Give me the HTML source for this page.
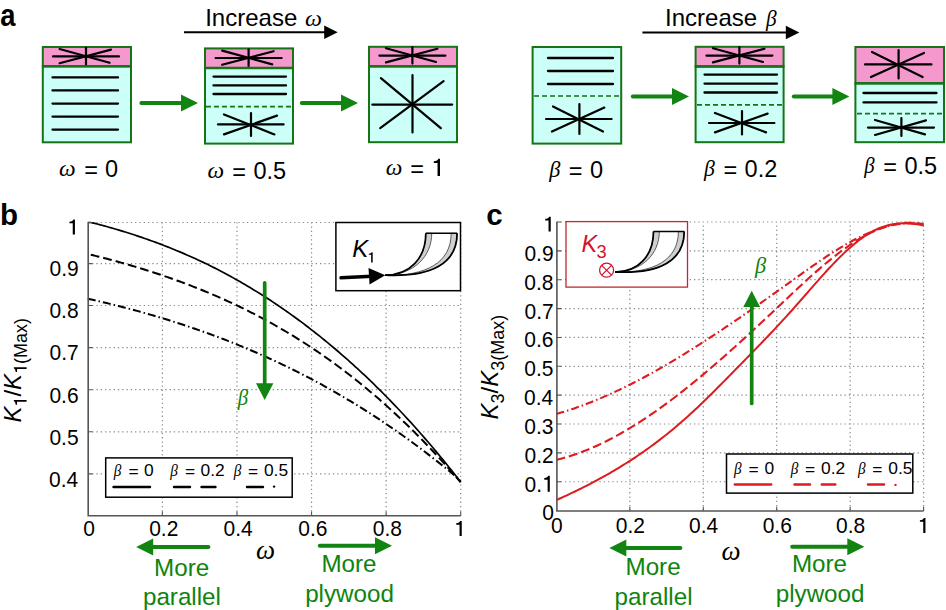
<!DOCTYPE html>
<html><head><meta charset="utf-8"><title>Figure</title>
<style>
html,body{margin:0;padding:0;background:#fff;width:946px;height:610px;overflow:hidden}
svg{display:block;font-family:"Liberation Sans",sans-serif}
</style></head><body>
<svg width="946" height="610" viewBox="0 0 946 610">
<rect width="946" height="610" fill="#fff"/>
<text x="0.3" y="25.9" font-size="31.5" font-weight="bold" textLength="15.23" lengthAdjust="spacingAndGlyphs" >a</text>
<rect x="42.8" y="47" width="88.2" height="19.3" fill="#f498cd" stroke="#167316" stroke-width="2"/>
<rect x="42.8" y="66.3" width="88.2" height="76" fill="#cbfff7" stroke="#167316" stroke-width="2"/>
<line x1="42.8" y1="66.3" x2="131" y2="66.3" stroke="#167316" stroke-width="2.4"/>
<line x1="52.5" y1="77.4" x2="118" y2="77.4" stroke="#000" stroke-width="2.3" stroke-linecap="round"/>
<line x1="52.5" y1="90.4" x2="118" y2="90.4" stroke="#000" stroke-width="2.3" stroke-linecap="round"/>
<line x1="52.5" y1="103.6" x2="118" y2="103.6" stroke="#000" stroke-width="2.3" stroke-linecap="round"/>
<line x1="52.5" y1="116.6" x2="118" y2="116.6" stroke="#000" stroke-width="2.3" stroke-linecap="round"/>
<line x1="52.5" y1="129.6" x2="118" y2="129.6" stroke="#000" stroke-width="2.3" stroke-linecap="round"/>
<g stroke="#000" stroke-width="2.2" stroke-linecap="round">
<line x1="53" y1="56.4" x2="119" y2="56.4"/>
<line x1="86" y1="47.8" x2="86" y2="64.4"/>
<line x1="59.6" y1="49" x2="109.6" y2="62.8"/>
<line x1="111" y1="49.6" x2="59.6" y2="63.2"/>
</g>
<rect x="205" y="48.4" width="88" height="19.6" fill="#f498cd" stroke="#167316" stroke-width="2"/>
<rect x="205" y="68" width="88" height="75.6" fill="#cbfff7" stroke="#167316" stroke-width="2"/>
<line x1="205" y1="68" x2="293" y2="68" stroke="#167316" stroke-width="2.4"/>
<g stroke="#000" stroke-width="2.2" stroke-linecap="round">
<line x1="215.6" y1="58" x2="281.6" y2="58"/>
<line x1="248.6" y1="49.4" x2="248.6" y2="66"/>
<line x1="222.2" y1="50.6" x2="272.2" y2="64.4"/>
<line x1="273.6" y1="51.2" x2="222.2" y2="64.8"/>
</g>
<line x1="213.5" y1="76.6" x2="286" y2="76.6" stroke="#000" stroke-width="2.3" stroke-linecap="round"/>
<line x1="213.5" y1="85.4" x2="286" y2="85.4" stroke="#000" stroke-width="2.3" stroke-linecap="round"/>
<line x1="213.5" y1="94" x2="286" y2="94" stroke="#000" stroke-width="2.3" stroke-linecap="round"/>
<line x1="206" y1="106.6" x2="292" y2="106.6" stroke="#167316" stroke-width="1.7" stroke-dasharray="5 3"/>
<g stroke="#000" stroke-width="2.2" stroke-linecap="round">
<line x1="218" y1="124.4" x2="283.6" y2="124.4"/>
<line x1="251" y1="113" x2="251" y2="136"/>
<line x1="224" y1="114.4" x2="274.4" y2="134.4"/>
<line x1="277" y1="115.6" x2="224" y2="134.4"/>
</g>
<rect x="369" y="46.8" width="88" height="19.6" fill="#f498cd" stroke="#167316" stroke-width="2"/>
<rect x="369" y="66.4" width="88" height="75.8" fill="#cbfff7" stroke="#167316" stroke-width="2"/>
<line x1="369" y1="66.4" x2="457" y2="66.4" stroke="#167316" stroke-width="2.4"/>
<g stroke="#000" stroke-width="2.2" stroke-linecap="round">
<line x1="379.4" y1="55.6" x2="445.4" y2="55.6"/>
<line x1="412.4" y1="47" x2="412.4" y2="63.6"/>
<line x1="386" y1="48.2" x2="436" y2="62"/>
<line x1="437.4" y1="48.8" x2="386" y2="62.4"/>
</g>
<g stroke="#000" stroke-width="2.2" stroke-linecap="round"><line x1="372.3" y1="104.6" x2="452.2" y2="104.6"/><line x1="412.5" y1="75" x2="412.5" y2="132.4"/><line x1="380.9" y1="78.1" x2="440.8" y2="128.2"/><line x1="443.6" y1="81.2" x2="380.2" y2="128.2"/></g>
<rect x="532.6" y="47" width="88.6" height="96.6" fill="#cbfff7" stroke="#167316" stroke-width="2"/>
<line x1="548" y1="58" x2="613" y2="58" stroke="#000" stroke-width="2.3" stroke-linecap="round"/>
<line x1="548" y1="71" x2="613" y2="71" stroke="#000" stroke-width="2.3" stroke-linecap="round"/>
<line x1="548" y1="84" x2="613" y2="84" stroke="#000" stroke-width="2.3" stroke-linecap="round"/>
<line x1="534" y1="96" x2="620" y2="96" stroke="#167316" stroke-width="1.7" stroke-dasharray="5 3"/>
<g stroke="#000" stroke-width="2.2" stroke-linecap="round">
<line x1="546" y1="119" x2="611.6" y2="119"/>
<line x1="579.4" y1="104" x2="579.4" y2="134"/>
<line x1="553" y1="106.4" x2="603" y2="131.6"/>
<line x1="604.4" y1="107.6" x2="552" y2="131.6"/>
</g>
<rect x="695.6" y="46.8" width="88" height="19.7" fill="#f498cd" stroke="#167316" stroke-width="2"/>
<rect x="695.6" y="66.5" width="88" height="75.7" fill="#cbfff7" stroke="#167316" stroke-width="2"/>
<line x1="695.6" y1="66.5" x2="783.6" y2="66.5" stroke="#167316" stroke-width="2.4"/>
<g stroke="#000" stroke-width="2.2" stroke-linecap="round">
<line x1="706.4" y1="55.6" x2="772.4" y2="55.6"/>
<line x1="739.4" y1="47" x2="739.4" y2="63.6"/>
<line x1="713" y1="48.2" x2="763" y2="62"/>
<line x1="764.4" y1="48.8" x2="713" y2="62.4"/>
</g>
<line x1="704.5" y1="74.6" x2="777" y2="74.6" stroke="#000" stroke-width="2.3" stroke-linecap="round"/>
<line x1="704.5" y1="83.6" x2="777" y2="83.6" stroke="#000" stroke-width="2.3" stroke-linecap="round"/>
<line x1="704.5" y1="92.5" x2="777" y2="92.5" stroke="#000" stroke-width="2.3" stroke-linecap="round"/>
<line x1="697" y1="104.8" x2="782" y2="104.8" stroke="#167316" stroke-width="1.7" stroke-dasharray="5 3"/>
<g stroke="#000" stroke-width="2.2" stroke-linecap="round">
<line x1="709" y1="123" x2="774.4" y2="123"/>
<line x1="742" y1="111" x2="742" y2="134.4"/>
<line x1="715" y1="113" x2="766" y2="132.4"/>
<line x1="767.6" y1="113.6" x2="715" y2="132.4"/>
</g>
<rect x="855.4" y="47" width="88.6" height="36.4" fill="#f498cd" stroke="#167316" stroke-width="2"/>
<rect x="855.4" y="83.4" width="88.6" height="58.8" fill="#cbfff7" stroke="#167316" stroke-width="2"/>
<line x1="855.4" y1="83.4" x2="944" y2="83.4" stroke="#167316" stroke-width="2.4"/>
<g stroke="#000" stroke-width="2.2" stroke-linecap="round">
<line x1="865" y1="64.4" x2="931.4" y2="64.4"/>
<line x1="898.6" y1="50" x2="898.6" y2="78.4"/>
<line x1="872" y1="52" x2="922.6" y2="77"/>
<line x1="924" y1="53" x2="871" y2="77"/>
</g>
<line x1="863.5" y1="93" x2="936.5" y2="93" stroke="#000" stroke-width="2.3" stroke-linecap="round"/>
<line x1="863.5" y1="102.4" x2="936.5" y2="102.4" stroke="#000" stroke-width="2.3" stroke-linecap="round"/>
<line x1="857" y1="113.6" x2="942" y2="113.6" stroke="#167316" stroke-width="1.7" stroke-dasharray="5 3"/>
<g stroke="#000" stroke-width="2.2" stroke-linecap="round">
<line x1="868" y1="127.6" x2="934" y2="127.6"/>
<line x1="901.4" y1="118" x2="901.4" y2="136"/>
<line x1="875" y1="120" x2="925" y2="134.4"/>
<line x1="926" y1="120.4" x2="875" y2="135"/>
</g>
<line x1="141.4" y1="103" x2="183" y2="103" stroke="#118411" stroke-width="4" stroke-linecap="round"/>
<path d="M198,103 L181,94.5 L181,111.5 Z" fill="#118411"/>
<line x1="301.8" y1="103" x2="343" y2="103" stroke="#118411" stroke-width="4" stroke-linecap="round"/>
<path d="M358,103 L341,94.5 L341,111.5 Z" fill="#118411"/>
<line x1="632.8" y1="96.4" x2="674" y2="96.4" stroke="#118411" stroke-width="4" stroke-linecap="round"/>
<path d="M689,96.4 L672,87.9 L672,104.9 Z" fill="#118411"/>
<line x1="793.8" y1="96.6" x2="834.4" y2="96.6" stroke="#118411" stroke-width="4" stroke-linecap="round"/>
<path d="M849.4,96.6 L832.4,88.1 L832.4,105.1 Z" fill="#118411"/>
<line x1="184" y1="32.3" x2="325.2" y2="32.3" stroke="#000" stroke-width="2.1"/>
<path d="M337.7,32.3 L324.2,25.6 L324.2,39 Z" fill="#000"/>
<line x1="642.4" y1="32.5" x2="786.8" y2="32.5" stroke="#000" stroke-width="2.1"/>
<path d="M799.4,32.5 L785.8,25.8 L785.8,39.2 Z" fill="#000"/>
<text x="205.19" y="26" font-size="24"  >Increase</text>
<text x="304.9" y="26" font-size="24" font-family="Liberation Serif" font-style="italic" >ω</text>
<text x="665.09" y="25.8" font-size="24"  >Increase</text>
<text x="766.04" y="25.8" font-size="24" font-family="Liberation Serif" font-style="italic" textLength="10.59" lengthAdjust="spacingAndGlyphs" >β</text>
<text x="59.12" y="176.3" font-size="23.5" font-family="Liberation Serif" font-style="italic" >ω</text>
<text x="84.25" y="177.9" font-size="23.5"  >=</text>
<text transform="translate(105.08,177) scale(1,1.04)" font-size="23.5"  >0</text>
<text x="207.42" y="178.3" font-size="23.5" font-family="Liberation Serif" font-style="italic" >ω</text>
<text x="232.15" y="179.9" font-size="23.5"  >=</text>
<text transform="translate(253.38,179) scale(1,1.04)" font-size="23.5"  >0.5</text>
<text x="385.72" y="175.4" font-size="23.5" font-family="Liberation Serif" font-style="italic" >ω</text>
<text x="410.35" y="177" font-size="23.5"  >=</text>
<path d="M268,0H373V709H298C283,655 225,615 109,608V530H268Z" transform="translate(431.24,176) scale(0.02350,-0.02444)" fill="#000"/>
<text x="549.36" y="176.5" font-size="23.5" font-family="Liberation Serif" font-style="italic" textLength="11.07" lengthAdjust="spacingAndGlyphs" >β</text>
<text x="568.85" y="179.1" font-size="23.5"  >=</text>
<text transform="translate(589.88,178) scale(1,1.04)" font-size="23.5"  >0</text>
<text x="703.95" y="176" font-size="23.5" font-family="Liberation Serif" font-style="italic" textLength="10.78" lengthAdjust="spacingAndGlyphs" >β</text>
<text x="723.45" y="177.6" font-size="23.5"  >=</text>
<text transform="translate(744.58,176.6) scale(1,1.04)" font-size="23.5"  >0.2</text>
<text x="864.33" y="172.6" font-size="23.5" font-family="Liberation Serif" font-style="italic" textLength="10.3" lengthAdjust="spacingAndGlyphs" >β</text>
<text x="883.35" y="175.1" font-size="23.5"  >=</text>
<text transform="translate(904.48,174.1) scale(1,1.04)" font-size="23.5"  >0.5</text>
<path d="M162.38,515.8V222.5M236.96,515.8V222.5M311.54,515.8V222.5M386.12,515.8V222.5M460.7,515.8V222.5M87.8,473.9H460.7M87.8,431.8H460.7M87.8,389.7H460.7M87.8,347.6H460.7M87.8,305.5H460.7M87.8,263.6H460.7M87.8,222.5H460.7" stroke="#8a8a8a" stroke-width="1.2" stroke-dasharray="1.3 3" fill="none"/>
<path d="M87.8,222.5 L90.15,222.5 92.49,222.85 94.84,223.44 97.18,224.04 99.53,224.66 101.87,225.28 104.22,225.91 106.56,226.55 108.91,227.21 111.25,227.87 113.6,228.54 115.94,229.22 118.29,229.91 120.63,230.61 122.98,231.33 125.32,232.05 127.67,232.78 130.02,233.52 132.36,234.28 134.71,235.04 137.05,235.82 139.4,236.6 141.74,237.4 144.09,238.2 146.43,239.02 148.78,239.85 151.12,240.69 153.47,241.54 155.81,242.4 158.16,243.28 160.5,244.16 162.85,245.06 165.19,245.96 167.54,246.88 169.88,247.81 172.23,248.76 174.58,249.71 176.92,250.68 179.27,251.65 181.61,252.64 183.96,253.65 186.3,254.66 188.65,255.69 190.99,256.73 193.34,257.78 195.68,258.84 198.03,259.92 200.37,261 202.72,262.11 205.06,263.22 207.41,264.36 209.75,265.52 212.1,266.7 214.45,267.88 216.79,269.09 219.14,270.3 221.48,271.53 223.83,272.77 226.17,274.03 228.52,275.3 230.86,276.58 233.21,277.88 235.55,279.19 237.9,280.51 240.24,281.85 242.59,283.2 244.93,284.57 247.28,285.95 249.62,287.35 251.97,288.76 254.32,290.19 256.66,291.63 259.01,293.08 261.35,294.55 263.7,296.03 266.04,297.53 268.39,299.04 270.73,300.57 273.08,302.12 275.42,303.68 277.77,305.25 280.11,306.85 282.46,308.46 284.8,310.09 287.15,311.73 289.49,313.39 291.84,315.07 294.18,316.76 296.53,318.47 298.88,320.19 301.22,321.93 303.57,323.68 305.91,325.46 308.26,327.24 310.6,329.05 312.95,330.87 315.29,332.71 317.64,334.56 319.98,336.43 322.33,338.32 324.67,340.22 327.02,342.14 329.36,344.08 331.71,346.04 334.05,348.01 336.4,350 338.75,352.01 341.09,354.03 343.44,356.07 345.78,358.13 348.13,360.21 350.47,362.3 352.82,364.41 355.16,366.54 357.51,368.69 359.85,370.86 362.2,373.04 364.54,375.24 366.89,377.46 369.23,379.7 371.58,381.96 373.92,384.23 376.27,386.53 378.62,388.84 380.96,391.17 383.31,393.52 385.65,395.89 388,398.27 390.34,400.68 392.69,403.1 395.03,405.55 397.38,408.01 399.72,410.49 402.07,412.99 404.41,415.51 406.76,418.05 409.1,420.61 411.45,423.19 413.79,425.79 416.14,428.41 418.48,431.05 420.83,433.71 423.18,436.39 425.52,439.08 427.87,441.8 430.21,444.54 432.56,447.3 434.9,450.08 437.25,452.88 439.59,455.7 441.94,458.54 444.28,461.4 446.63,464.28 448.97,467.19 451.32,470.11 453.66,473.05 456.01,476.01 458.35,478.98 460.7,481.98" stroke="#000" stroke-width="1.7" fill="none"/>
<path d="M90.78,254.69 L93.11,255.27 95.44,255.85 97.76,256.44 100.09,257.03 102.42,257.63 104.74,258.23 107.07,258.84 109.4,259.45 111.72,260.07 114.05,260.7 116.37,261.33 118.7,261.96 121.03,262.61 123.35,263.26 125.68,263.92 128.01,264.59 130.33,265.27 132.66,265.96 134.99,266.66 137.31,267.36 139.64,268.07 141.97,268.78 144.29,269.51 146.62,270.24 148.95,270.98 151.27,271.72 153.6,272.47 155.93,273.24 158.25,274.01 160.58,274.78 162.91,275.57 165.23,276.36 167.56,277.16 169.88,277.97 172.21,278.79 174.54,279.62 176.86,280.46 179.19,281.3 181.52,282.16 183.84,283.02 186.17,283.89 188.5,284.77 190.82,285.66 193.15,286.56 195.48,287.47 197.8,288.39 200.13,289.32 202.46,290.26 204.78,291.21 207.11,292.17 209.44,293.14 211.76,294.12 214.09,295.12 216.42,296.12 218.74,297.13 221.07,298.15 223.39,299.19 225.72,300.23 228.05,301.29 230.37,302.36 232.7,303.43 235.03,304.52 237.35,305.63 239.68,306.75 242.01,307.88 244.33,309.02 246.66,310.17 248.99,311.34 251.31,312.52 253.64,313.71 255.97,314.91 258.29,316.13 260.62,317.36 262.95,318.6 265.27,319.85 267.6,321.12 269.93,322.4 272.25,323.7 274.58,325 276.9,326.32 279.23,327.66 281.56,329.01 283.88,330.37 286.21,331.74 288.54,333.13 290.86,334.54 293.19,335.95 295.52,337.39 297.84,338.83 300.17,340.29 302.5,341.77 304.82,343.26 307.15,344.76 309.48,346.28 311.8,347.82 314.13,349.37 316.46,350.93 318.78,352.51 321.11,354.11 323.44,355.72 325.76,357.35 328.09,358.99 330.41,360.65 332.74,362.33 335.07,364.02 337.39,365.73 339.72,367.45 342.05,369.19 344.37,370.95 346.7,372.72 349.03,374.51 351.35,376.32 353.68,378.14 356.01,379.99 358.33,381.84 360.66,383.72 362.99,385.61 365.31,387.52 367.64,389.45 369.97,391.4 372.29,393.36 374.62,395.34 376.95,397.34 379.27,399.36 381.6,401.4 383.92,403.45 386.25,405.53 388.58,407.62 390.9,409.73 393.23,411.86 395.56,414.01 397.88,416.17 400.21,418.36 402.54,420.57 404.86,422.79 407.19,425.04 409.52,427.3 411.84,429.58 414.17,431.89 416.5,434.21 418.82,436.55 421.15,438.92 423.48,441.3 425.8,443.7 428.13,446.13 430.46,448.57 432.78,451.04 435.11,453.53 437.43,456.03 439.76,458.56 442.09,461.11 444.41,463.68 446.74,466.27 449.07,468.89 451.39,471.52 453.72,474.18 456.05,476.84 458.37,479.53 460.7,482.24" stroke="#000" stroke-width="2" fill="none" stroke-dasharray="8.8 4"/>
<path d="M87.8,298.72 L90.15,299.25 92.49,299.78 94.84,300.31 97.18,300.85 99.53,301.4 101.87,301.95 104.22,302.51 106.56,303.07 108.91,303.63 111.25,304.21 113.6,304.78 115.94,305.37 118.29,305.96 120.63,306.56 122.98,307.16 125.32,307.77 127.67,308.38 130.02,309.01 132.36,309.63 134.71,310.26 137.05,310.9 139.4,311.55 141.74,312.2 144.09,312.86 146.43,313.52 148.78,314.19 151.12,314.87 153.47,315.55 155.81,316.24 158.16,316.94 160.5,317.64 162.85,318.35 165.19,319.06 167.54,319.79 169.88,320.52 172.23,321.25 174.58,322 176.92,322.75 179.27,323.5 181.61,324.27 183.96,325.04 186.3,325.82 188.65,326.6 190.99,327.39 193.34,328.19 195.68,329 198.03,329.82 200.37,330.64 202.72,331.47 205.06,332.31 207.41,333.15 209.75,334.01 212.1,334.87 214.45,335.73 216.79,336.61 219.14,337.49 221.48,338.39 223.83,339.29 226.17,340.19 228.52,341.11 230.86,342.03 233.21,342.97 235.55,343.91 237.9,344.86 240.24,345.81 242.59,346.78 244.93,347.75 247.28,348.74 249.62,349.73 251.97,350.73 254.32,351.74 256.66,352.75 259.01,353.78 261.35,354.82 263.7,355.86 266.04,356.91 268.39,357.97 270.73,359.04 273.08,360.12 275.42,361.21 277.77,362.31 280.11,363.42 282.46,364.54 284.8,365.66 287.15,366.8 289.49,367.94 291.84,369.1 294.18,370.26 296.53,371.43 298.88,372.62 301.22,373.81 303.57,375.01 305.91,376.22 308.26,377.45 310.6,378.68 312.95,379.92 315.29,381.17 317.64,382.44 319.98,383.71 322.33,384.99 324.67,386.28 327.02,387.59 329.36,388.9 331.71,390.22 334.05,391.56 336.4,392.9 338.75,394.26 341.09,395.62 343.44,397 345.78,398.39 348.13,399.79 350.47,401.19 352.82,402.61 355.16,404.04 357.51,405.49 359.85,406.94 362.2,408.4 364.54,409.88 366.89,411.36 369.23,412.86 371.58,414.37 373.92,415.89 376.27,417.42 378.62,418.96 380.96,420.51 383.31,422.08 385.65,423.66 388,425.25 390.34,426.85 392.69,428.46 395.03,430.08 397.38,431.72 399.72,433.36 402.07,435.02 404.41,436.7 406.76,438.38 409.1,440.07 411.45,441.78 413.79,443.5 416.14,445.23 418.48,446.98 420.83,448.74 423.18,450.51 425.52,452.29 427.87,454.08 430.21,455.89 432.56,457.71 434.9,459.54 437.25,461.38 439.59,463.24 441.94,465.11 444.28,467 446.63,468.89 448.97,470.8 451.32,472.72 453.66,474.66 456.01,476.6 458.35,478.55 460.7,480.51" stroke="#000" stroke-width="2" fill="none" stroke-dasharray="8 3 1.5 3"/>
<path d="M162.38,515.7v-4.2M236.96,515.7v-4.2M311.54,515.7v-4.2M386.12,515.7v-4.2M460.7,515.7v-4.2M88.2,473.9h4.2M88.2,431.8h4.2M88.2,389.7h4.2M88.2,347.6h4.2M88.2,305.5h4.2M88.2,263.6h4.2M88.2,222.5h4.2" stroke="#555" stroke-width="1.1" fill="none"/>
<path d="M88.2,222.5V515.7H460.7" stroke="#555" stroke-width="1.6" fill="none"/>
<text transform="translate(49.5,276.4) scale(1,1.08)" font-size="21"  >0.9</text>
<text transform="translate(49.42,318.3) scale(1,1.08)" font-size="21"  >0.8</text>
<text transform="translate(49.56,360.4) scale(1,1.08)" font-size="21"  >0.7</text>
<text transform="translate(49.43,402.5) scale(1,1.08)" font-size="21"  >0.6</text>
<text transform="translate(49.39,444.6) scale(1,1.08)" font-size="21"  >0.5</text>
<text transform="translate(49.12,486.7) scale(1,1.08)" font-size="21"  >0.4</text>
<path d="M268,0H373V709H298C283,655 225,615 109,608V530H268Z" transform="translate(67.11,234.5) scale(0.02100,-0.02100)" fill="#000"/>
<text transform="translate(83.26,536.2) scale(1,1.08)" font-size="21"  >0</text>
<text transform="translate(149.2,536.2) scale(1,1.08)" font-size="21"  >0.2</text>
<text transform="translate(223.56,536.2) scale(1,1.08)" font-size="21"  >0.4</text>
<text transform="translate(298.29,536.2) scale(1,1.08)" font-size="21"  >0.6</text>
<text transform="translate(372.87,536.2) scale(1,1.08)" font-size="21"  >0.8</text>
<path d="M268,0H373V709H298C283,655 225,615 109,608V530H268Z" transform="translate(453.91,536) scale(0.02100,-0.02100)" fill="#000"/>
<text x="0.06" y="224.7" font-size="29.5" font-weight="bold" >b</text>
<path d="M629.84,510.6V222M703.28,510.6V222M776.72,510.6V222M850.16,510.6V222M923.6,510.6V222M556.4,481.74H923.6M556.4,452.88H923.6M556.4,424.02H923.6M556.4,395.16H923.6M556.4,366.3H923.6M556.4,337.44H923.6M556.4,308.58H923.6M556.4,279.72H923.6M556.4,250.86H923.6M556.4,222H923.6" stroke="#8a8a8a" stroke-width="1.2" stroke-dasharray="1.3 3" fill="none"/>
<path d="M556.4,500.06 L558.71,499.02 561.02,497.98 563.33,496.93 565.64,495.86 567.95,494.79 570.26,493.7 572.57,492.61 574.88,491.5 577.18,490.38 579.49,489.25 581.8,488.1 584.11,486.95 586.42,485.78 588.73,484.59 591.04,483.39 593.35,482.18 595.66,480.95 597.97,479.71 600.28,478.45 602.59,477.18 604.9,475.89 607.21,474.59 609.52,473.26 611.83,471.93 614.14,470.57 616.45,469.2 618.75,467.81 621.06,466.4 623.37,464.97 625.68,463.52 627.99,462.06 630.3,460.58 632.61,459.07 634.92,457.55 637.23,456 639.54,454.44 641.85,452.85 644.16,451.24 646.47,449.61 648.78,447.96 651.09,446.29 653.4,444.59 655.71,442.87 658.02,441.13 660.32,439.36 662.63,437.57 664.94,435.76 667.25,433.92 669.56,432.06 671.87,430.17 674.18,428.25 676.49,426.31 678.8,424.35 681.11,422.35 683.42,420.33 685.73,418.29 688.04,416.21 690.35,414.11 692.66,411.99 694.97,409.84 697.28,407.67 699.58,405.47 701.89,403.26 704.2,401.03 706.51,398.78 708.82,396.52 711.13,394.24 713.44,391.95 715.75,389.64 718.06,387.33 720.37,385 722.68,382.67 724.99,380.33 727.3,377.98 729.61,375.63 731.92,373.28 734.23,370.92 736.54,368.56 738.85,366.2 741.15,363.85 743.46,361.49 745.77,359.12 748.08,356.76 750.39,354.39 752.7,352.02 755.01,349.64 757.32,347.26 759.63,344.87 761.94,342.47 764.25,340.06 766.56,337.64 768.87,335.22 771.18,332.78 773.49,330.33 775.8,327.87 778.11,325.39 780.42,322.9 782.72,320.4 785.03,317.88 787.34,315.34 789.65,312.78 791.96,310.21 794.27,307.62 796.58,305.01 798.89,302.39 801.2,299.76 803.51,297.11 805.82,294.47 808.13,291.82 810.44,289.18 812.75,286.54 815.06,283.91 817.37,281.29 819.68,278.7 821.98,276.12 824.29,273.56 826.6,271.03 828.91,268.53 831.22,266.06 833.53,263.63 835.84,261.24 838.15,258.9 840.46,256.6 842.77,254.35 845.08,252.15 847.39,250.01 849.7,247.94 852.01,245.92 854.32,243.98 856.63,242.1 858.94,240.3 861.25,238.58 863.55,236.94 865.86,235.38 868.17,233.91 870.48,232.54 872.79,231.25 875.1,230.07 877.41,228.99 879.72,228.01 882.03,227.13 884.34,226.36 886.65,225.68 888.96,225.09 891.27,224.59 893.58,224.18 895.89,223.86 898.2,223.62 900.51,223.45 902.82,223.36 905.12,223.34 907.43,223.39 909.74,223.51 912.05,223.68 914.36,223.92 916.67,224.21 918.98,224.56 921.29,224.96 923.6,225.4" stroke="#dc1c20" stroke-width="2" fill="none"/>
<path d="M556.4,459.86 L558.71,459.29 561.02,458.69 563.33,458.06 565.64,457.4 567.95,456.72 570.26,456 572.57,455.25 574.88,454.47 577.18,453.67 579.49,452.83 581.8,451.97 584.11,451.08 586.42,450.16 588.73,449.21 591.04,448.24 593.35,447.24 595.66,446.22 597.97,445.17 600.28,444.09 602.59,442.98 604.9,441.86 607.21,440.7 609.52,439.52 611.83,438.32 614.14,437.1 616.45,435.85 618.75,434.57 621.06,433.28 623.37,431.96 625.68,430.61 627.99,429.25 630.3,427.86 632.61,426.45 634.92,425.02 637.23,423.57 639.54,422.1 641.85,420.61 644.16,419.1 646.47,417.56 648.78,416.01 651.09,414.44 653.4,412.85 655.71,411.24 658.02,409.61 660.32,407.97 662.63,406.3 664.94,404.62 667.25,402.92 669.56,401.21 671.87,399.48 674.18,397.73 676.49,395.96 678.8,394.18 681.11,392.39 683.42,390.58 685.73,388.75 688.04,386.91 690.35,385.05 692.66,383.18 694.97,381.3 697.28,379.41 699.58,377.5 701.89,375.57 704.2,373.64 706.51,371.69 708.82,369.73 711.13,367.76 713.44,365.78 715.75,363.79 718.06,361.78 720.37,359.77 722.68,357.75 724.99,355.71 727.3,353.67 729.61,351.61 731.92,349.55 734.23,347.48 736.54,345.4 738.85,343.31 741.15,341.22 743.46,339.12 745.77,337.01 748.08,334.89 750.39,332.77 752.7,330.64 755.01,328.5 757.32,326.36 759.63,324.21 761.94,322.06 764.25,319.9 766.56,317.74 768.87,315.58 771.18,313.41 773.49,311.23 775.8,309.06 778.11,306.88 780.42,304.69 782.72,302.51 785.03,300.33 787.34,298.15 789.65,295.97 791.96,293.79 794.27,291.63 796.58,289.47 798.89,287.32 801.2,285.18 803.51,283.05 805.82,280.93 808.13,278.83 810.44,276.75 812.75,274.68 815.06,272.64 817.37,270.61 819.68,268.6 821.98,266.62 824.29,264.66 826.6,262.73 828.91,260.83 831.22,258.96 833.53,257.11 835.84,255.3 838.15,253.52 840.46,251.78 842.77,250.07 845.08,248.4 847.39,246.77 849.7,245.18 852.01,243.63 854.32,242.13 856.63,240.67 858.94,239.26 861.25,237.89 863.55,236.57 865.86,235.31 868.17,234.09 870.48,232.93 872.79,231.83 875.1,230.78 877.41,229.79 879.72,228.85 882.03,227.98 884.34,227.17 886.65,226.43 888.96,225.75 891.27,225.13 893.58,224.58 895.89,224.1 898.2,223.7 900.51,223.36 902.82,223.1 905.12,222.91 907.43,222.8 909.74,222.77 912.05,222.82 914.36,222.94 916.67,223.15 918.98,223.44 921.29,223.82 923.6,224.29" stroke="#dc1c20" stroke-width="2.1" fill="none" stroke-dasharray="9 3.9"/>
<path d="M556.4,413.93 L558.71,413.27 561.02,412.59 563.33,411.89 565.64,411.18 567.95,410.44 570.26,409.69 572.57,408.92 574.88,408.14 577.18,407.33 579.49,406.51 581.8,405.67 584.11,404.82 586.42,403.95 588.73,403.06 591.04,402.15 593.35,401.23 595.66,400.3 597.97,399.34 600.28,398.37 602.59,397.39 604.9,396.39 607.21,395.38 609.52,394.35 611.83,393.3 614.14,392.24 616.45,391.17 618.75,390.08 621.06,388.98 623.37,387.87 625.68,386.74 627.99,385.6 630.3,384.44 632.61,383.27 634.92,382.09 637.23,380.89 639.54,379.69 641.85,378.47 644.16,377.23 646.47,375.99 648.78,374.73 651.09,373.46 653.4,372.18 655.71,370.89 658.02,369.59 660.32,368.28 662.63,366.95 664.94,365.62 667.25,364.27 669.56,362.91 671.87,361.55 674.18,360.17 676.49,358.78 678.8,357.39 681.11,355.98 683.42,354.57 685.73,353.14 688.04,351.71 690.35,350.27 692.66,348.82 694.97,347.36 697.28,345.89 699.58,344.42 701.89,342.93 704.2,341.44 706.51,339.94 708.82,338.44 711.13,336.92 713.44,335.4 715.75,333.87 718.06,332.34 720.37,330.8 722.68,329.25 724.99,327.7 727.3,326.14 729.61,324.57 731.92,323 734.23,321.43 736.54,319.84 738.85,318.26 741.15,316.67 743.46,315.07 745.77,313.47 748.08,311.86 750.39,310.25 752.7,308.64 755.01,307.02 757.32,305.4 759.63,303.77 761.94,302.15 764.25,300.51 766.56,298.88 768.87,297.24 771.18,295.6 773.49,293.96 775.8,292.31 778.11,290.67 780.42,289.02 782.72,287.37 785.03,285.71 787.34,284.06 789.65,282.4 791.96,280.75 794.27,279.09 796.58,277.43 798.89,275.78 801.2,274.12 803.51,272.47 805.82,270.83 808.13,269.19 810.44,267.56 812.75,265.94 815.06,264.33 817.37,262.73 819.68,261.15 821.98,259.58 824.29,258.02 826.6,256.48 828.91,254.96 831.22,253.46 833.53,251.98 835.84,250.52 838.15,249.09 840.46,247.68 842.77,246.29 845.08,244.93 847.39,243.61 849.7,242.31 852.01,241.04 854.32,239.8 856.63,238.6 858.94,237.43 861.25,236.3 863.55,235.21 865.86,234.16 868.17,233.14 870.48,232.17 872.79,231.24 875.1,230.35 877.41,229.51 879.72,228.72 882.03,227.97 884.34,227.27 886.65,226.63 888.96,226.03 891.27,225.49 893.58,225 895.89,224.57 898.2,224.2 900.51,223.88 902.82,223.62 905.12,223.42 907.43,223.29 909.74,223.22 912.05,223.21 914.36,223.27 916.67,223.4 918.98,223.59 921.29,223.86 923.6,224.19" stroke="#dc1c20" stroke-width="2.1" fill="none" stroke-dasharray="8 3 1.5 3"/>
<path d="M629.84,511v-4.2M703.28,511v-4.2M776.72,511v-4.2M850.16,511v-4.2M923.6,511v-4.2M556.9,481.74h4.2M556.9,452.88h4.2M556.9,424.02h4.2M556.9,395.16h4.2M556.9,366.3h4.2M556.9,337.44h4.2M556.9,308.58h4.2M556.9,279.72h4.2M556.9,250.86h4.2M556.9,222h4.2" stroke="#555" stroke-width="1.1" fill="none"/>
<path d="M556.9,222V511H923.6" stroke="#555" stroke-width="1.6" fill="none"/>
<text transform="translate(524.46,491.74) scale(1,1.08)" font-size="21"  >0.</text>
<path d="M268,0H373V709H298C283,655 225,615 109,608V530H268Z" transform="translate(541.98,491.74) scale(0.02100,-0.02268)" fill="#000"/>
<text transform="translate(524.46,462.88) scale(1,1.08)" font-size="21"  >0.2</text>
<text transform="translate(524.33,434.02) scale(1,1.08)" font-size="21"  >0.3</text>
<text transform="translate(524.02,405.16) scale(1,1.08)" font-size="21"  >0.4</text>
<text transform="translate(524.29,376.3) scale(1,1.08)" font-size="21"  >0.5</text>
<text transform="translate(524.33,347.44) scale(1,1.08)" font-size="21"  >0.6</text>
<text transform="translate(524.46,318.58) scale(1,1.08)" font-size="21"  >0.7</text>
<text transform="translate(524.32,289.72) scale(1,1.08)" font-size="21"  >0.8</text>
<text transform="translate(524.4,260.86) scale(1,1.08)" font-size="21"  >0.9</text>
<path d="M268,0H373V709H298C283,655 225,615 109,608V530H268Z" transform="translate(542.91,231.6) scale(0.02100,-0.02100)" fill="#000"/>
<text transform="translate(542.18,520) scale(1,1.08)" font-size="21"  >0</text>
<text transform="translate(551.06,533.3) scale(1,1.08)" font-size="21"  >0</text>
<text transform="translate(615.86,533.3) scale(1,1.08)" font-size="21"  >0.2</text>
<text transform="translate(689.08,533.3) scale(1,1.08)" font-size="21"  >0.4</text>
<text transform="translate(762.67,533.3) scale(1,1.08)" font-size="21"  >0.6</text>
<text transform="translate(836.11,533.3) scale(1,1.08)" font-size="21"  >0.8</text>
<path d="M268,0H373V709H298C283,655 225,615 109,608V530H268Z" transform="translate(917.61,533) scale(0.02100,-0.02100)" fill="#000"/>
<text x="486.25" y="224.7" font-size="29.5" font-weight="bold" >c</text>
<text x="256.1" y="559.2" font-size="27" font-family="Liberation Serif" font-style="italic" >ω</text>
<text x="721.6" y="560.2" font-size="27" font-family="Liberation Serif" font-style="italic" >ω</text>
<line x1="208.4" y1="547" x2="151.2" y2="547" stroke="#118411" stroke-width="4" stroke-linecap="round"/>
<path d="M136.2,547 L153.2,538.6 L153.2,555.4 Z" fill="#118411"/>
<line x1="319.8" y1="545.7" x2="377" y2="545.7" stroke="#118411" stroke-width="4" stroke-linecap="round"/>
<path d="M392,545.7 L375,537.2 L375,554.2 Z" fill="#118411"/>
<line x1="680.4" y1="548" x2="624.3" y2="548" stroke="#118411" stroke-width="4" stroke-linecap="round"/>
<path d="M609.3,548 L626.3,539.5 L626.3,556.5 Z" fill="#118411"/>
<line x1="792.2" y1="546.8" x2="849.3" y2="546.8" stroke="#118411" stroke-width="4" stroke-linecap="round"/>
<path d="M864.3,546.8 L847.3,538.3 L847.3,555.3 Z" fill="#118411"/>
<text x="154.11" y="575.5" font-size="24.2"  fill="#0e840e" >More</text>
<text x="142.94" y="604.5" font-size="24.2"  fill="#0e840e" >parallel</text>
<text x="321.41" y="572.2" font-size="24.2"  fill="#0e840e" >More</text>
<text x="305.14" y="601.5" font-size="24.2"  fill="#0e840e" >plywood</text>
<text x="625.51" y="575.3" font-size="24.2"  fill="#0e840e" >More</text>
<text x="614.54" y="604.8" font-size="24.2"  fill="#0e840e" >parallel</text>
<text x="791.91" y="572" font-size="24.2"  fill="#0e840e" >More</text>
<text x="775.74" y="601.6" font-size="24.2"  fill="#0e840e" >plywood</text>
<line x1="264.7" y1="282.8" x2="264.7" y2="385.3" stroke="#118411" stroke-width="3.7" stroke-linecap="round"/>
<path d="M264.7,399.9 L256,383.3 L273.4,383.3 Z" fill="#118411"/>
<text x="237.74" y="405.2" font-size="23" font-family="Liberation Serif" font-style="italic" fill="#0e840e" textLength="10.39" lengthAdjust="spacingAndGlyphs" >β</text>
<line x1="751.7" y1="403.4" x2="751.7" y2="305.1" stroke="#118411" stroke-width="3.7" stroke-linecap="round"/>
<path d="M751.7,290.8 L743.3,307.1 L760.1,307.1 Z" fill="#118411"/>
<text x="754.96" y="273.1" font-size="23" font-family="Liberation Serif" font-style="italic" fill="#0e840e" textLength="11.17" lengthAdjust="spacingAndGlyphs" >β</text>
<rect x="105.7" y="457.9" width="186.5" height="39.3" fill="#fff" stroke="#000" stroke-width="1.5"/>
<text x="113.65" y="475.6" font-size="17.4" font-family="Liberation Serif" font-style="italic" textLength="7.58" lengthAdjust="spacingAndGlyphs" >β</text>
<text x="128.45" y="476.6" font-size="17.4"  >=</text>
<text x="144.02" y="475.6" font-size="17.4"  >0</text>
<text x="170.25" y="475.6" font-size="17.4" font-family="Liberation Serif" font-style="italic" textLength="7.58" lengthAdjust="spacingAndGlyphs" >β</text>
<text x="185.05" y="476.6" font-size="17.4"  >=</text>
<text x="200.52" y="475.6" font-size="17.4"  >0.2</text>
<text x="233.65" y="475.6" font-size="17.4" font-family="Liberation Serif" font-style="italic" textLength="7.58" lengthAdjust="spacingAndGlyphs" >β</text>
<text x="247.95" y="476.6" font-size="17.4"  >=</text>
<text x="263.92" y="475.6" font-size="17.4"  >0.5</text>
<line x1="113.5" y1="487" x2="150" y2="487" stroke="#000" stroke-width="2.4" stroke-linecap="round"/>
<line x1="174" y1="487" x2="190" y2="487" stroke="#000" stroke-width="2.4" stroke-linecap="round"/>
<line x1="201.5" y1="487" x2="215.5" y2="487" stroke="#000" stroke-width="2.4" stroke-linecap="round"/>
<line x1="247" y1="487" x2="263" y2="487" stroke="#000" stroke-width="2.4" stroke-linecap="round"/>
<circle cx="274.1" cy="486.6" r="1.2" fill="#000"/>
<rect x="726.5" y="454" width="186.3" height="39.1" fill="#fff" stroke="#000" stroke-width="1.5"/>
<text x="734.05" y="473.5" font-size="17.4" font-family="Liberation Serif" font-style="italic" textLength="7.58" lengthAdjust="spacingAndGlyphs" >β</text>
<text x="748.55" y="474.5" font-size="17.4"  >=</text>
<text x="764.52" y="473.5" font-size="17.4"  >0</text>
<text x="790.85" y="473.5" font-size="17.4" font-family="Liberation Serif" font-style="italic" textLength="7.58" lengthAdjust="spacingAndGlyphs" >β</text>
<text x="805.05" y="474.5" font-size="17.4"  >=</text>
<text x="821.02" y="473.5" font-size="17.4"  >0.2</text>
<text x="857.95" y="473.5" font-size="17.4" font-family="Liberation Serif" font-style="italic" textLength="7.58" lengthAdjust="spacingAndGlyphs" >β</text>
<text x="872.15" y="474.5" font-size="17.4"  >=</text>
<text x="888.22" y="473.5" font-size="17.4"  >0.5</text>
<line x1="734.8" y1="484.5" x2="771.2" y2="484.5" stroke="#dc1c20" stroke-width="2.4" stroke-linecap="round"/>
<line x1="794.5" y1="484.5" x2="810" y2="484.5" stroke="#dc1c20" stroke-width="2.4" stroke-linecap="round"/>
<line x1="821.8" y1="484.5" x2="835.3" y2="484.5" stroke="#dc1c20" stroke-width="2.4" stroke-linecap="round"/>
<line x1="868" y1="484.5" x2="884" y2="484.5" stroke="#dc1c20" stroke-width="2.4" stroke-linecap="round"/>
<circle cx="895.5" cy="484.9" r="1.2" fill="#dc1c20"/>
<rect x="335.9" y="222.5" width="124.6" height="68.2" fill="#fff" stroke="#000" stroke-width="1.5"/>
<text x="352.36" y="256.7" font-size="24" font-style="italic" >K</text>
<path d="M268,0H373V709H298C283,655 225,615 109,608V530H268Z" transform="translate(367.2,262.6) scale(0.01470,-0.01470)" fill="#000"/>
<line x1="341" y1="277.8" x2="372" y2="276.3" stroke="#000" stroke-width="3.4" stroke-linecap="round"/>
<path d="M385.3,275.2 L368.5,267.9 L369.5,284.6 Z" fill="#000"/>
<path d="M385.3,275.2 C409.6,275.2 425.8,258.44 425.8,233.3 L431.75,233.3 C431.75,256.35 414.1,274.7 385.3,275.2 Z" fill="#cfcfcf" stroke="#000" stroke-width="0.6"/>
<path d="M385.3,275.2 C431.97,277.2 457.1,263.47 457.1,233.3 L451.15,233.3 C451.15,262.63 426.13,276.2 385.3,275.2 Z" fill="#cfcfcf" stroke="#000" stroke-width="0.6"/>
<path d="M385.3,275.2 C409.6,275.2 425.8,258.44 425.8,233.3" stroke="#000" stroke-width="1.7" fill="none"/>
<path d="M385.3,275.2 C431.97,277.2 457.1,263.47 457.1,233.3" stroke="#000" stroke-width="1.7" fill="none"/>
<line x1="425.8" y1="233.3" x2="457.1" y2="233.3" stroke="#000" stroke-width="1.5"/>
<rect x="566" y="221.6" width="121.5" height="65.5" fill="#fff" stroke="#c02830" stroke-width="1.3"/>
<text x="581.57" y="251.9" font-size="23.6" font-style="italic" fill="#d4122c" >K</text>
<text x="596.5" y="257.9" font-size="18.3"  fill="#d4122c" >3</text>
<circle cx="606.6" cy="270.2" r="7" fill="none" stroke="#d4122c" stroke-width="1.3"/>
<path d="M601.7,265.3 L611.5,275.1 M611.5,265.3 L601.7,275.1" stroke="#d4122c" stroke-width="1.2"/>
<path d="M615.1,272 C638.14,272 653.5,255.8 653.5,231.5 L659.33,231.5 C659.33,253.78 642.52,271.5 615.1,272 Z" fill="#cfcfcf" stroke="#000" stroke-width="0.6"/>
<path d="M615.1,272 C660.01,274 684.2,260.66 684.2,231.5 L678.37,231.5 C678.37,259.85 654.33,273 615.1,272 Z" fill="#cfcfcf" stroke="#000" stroke-width="0.6"/>
<path d="M615.1,272 C638.14,272 653.5,255.8 653.5,231.5" stroke="#000" stroke-width="1.7" fill="none"/>
<path d="M615.1,272 C660.01,274 684.2,260.66 684.2,231.5" stroke="#000" stroke-width="1.7" fill="none"/>
<line x1="653.5" y1="231.5" x2="684.2" y2="231.5" stroke="#000" stroke-width="1.5"/>
<g transform="translate(20.6,422.6) rotate(-90)">
<text x="0" y="0" font-size="24" font-style="italic">K</text>
<path d="M268,0H373V709H298C283,655 225,615 109,608V530H268Z" transform="translate(16.01,6) scale(0.01800,-0.01800)"/>
<text x="26.02" y="0" font-size="24">/</text>
<text x="32.68" y="0" font-size="24" font-style="italic">K</text>
<path d="M268,0H373V709H298C283,655 225,615 109,608V530H268Z" transform="translate(48.69,6) scale(0.01800,-0.01800)"/>
<text x="58.7" y="6" font-size="18">(Max)</text>
</g>
<g transform="translate(498.3,419.4) rotate(-90)">
<text x="0" y="0" font-size="24" font-style="italic">K</text>
<text x="16.01" y="6" font-size="18">3</text>
<text x="26.02" y="0" font-size="24">/</text>
<text x="32.68" y="0" font-size="24" font-style="italic">K</text>
<text x="48.69" y="6" font-size="18">3</text>
<text x="58.7" y="6" font-size="18">(Max)</text>
</g>
</svg>
</body></html>
